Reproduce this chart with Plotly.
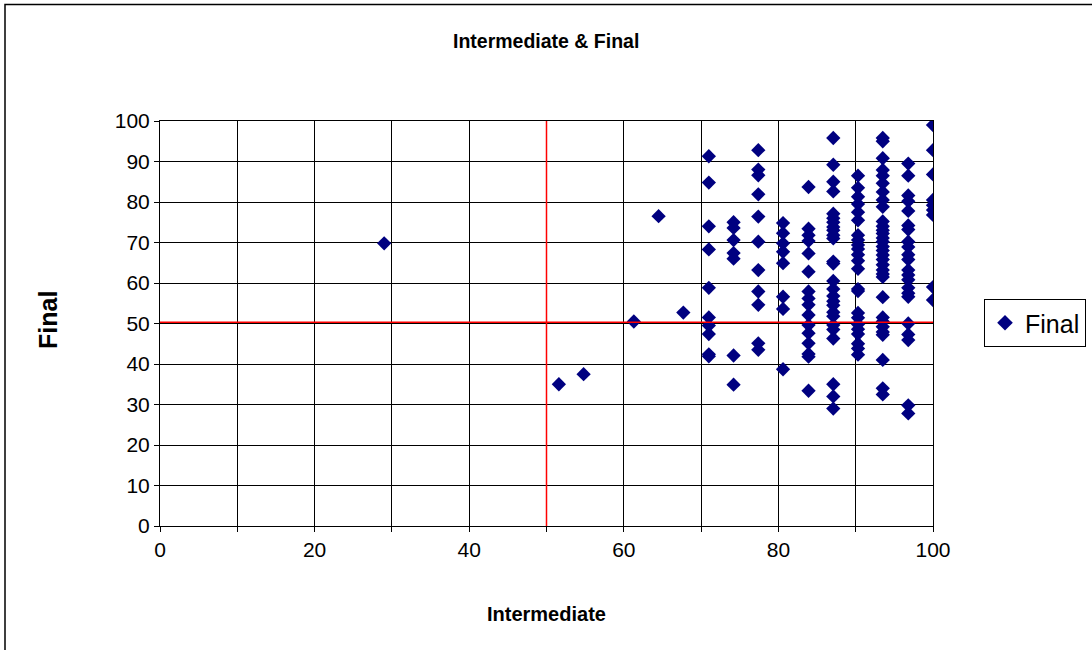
import plotly.graph_objects as go

# Intermediate score columns and the Final scores
intermediate_cols = [29.0, 51.6, 54.8, 61.3, 64.5, 67.7, 71.0, 74.2, 77.4, 80.6,
                     83.9, 87.1, 90.3, 93.5, 96.8, 100.0]
final_by_col = [
    [69.8],
    [35.0],
    [37.5],
    [50.5],
    [76.5],
    [52.7],
    [91.3, 84.8, 74.0, 68.3, 58.8, 51.5, 49.5, 47.4, 42.4, 41.9],
    [75.0, 73.6, 70.6, 67.4, 66.0, 42.1, 34.9],
    [92.8, 88.0, 86.6, 81.9, 76.4, 70.2, 63.2, 57.9, 54.6, 45.1, 43.5],
    [74.8, 72.3, 69.8, 67.7, 64.9, 56.6, 53.6, 38.7],
    [83.7, 73.4, 71.8, 70.4, 67.3, 62.8, 57.9, 56.2, 54.6, 52.1, 49.6, 47.6,
     45.1, 42.5, 41.8, 33.4],
    [95.8, 89.2, 85.0, 82.6, 77.1, 76.0, 75.0, 73.8, 73.0, 71.8, 71.0, 65.3,
     64.8, 60.5, 58.5, 56.8, 55.5, 54.5, 52.8, 51.8, 49.6, 48.5, 46.3, 35.0,
     32.0, 29.0],
    [86.5, 83.5, 81.3, 79.5, 77.5, 75.5, 71.8, 70.6, 69.4, 68.4, 67.0, 65.5,
     63.5, 58.5, 58.0, 52.6, 51.4, 49.8, 48.6, 47.4, 45.0, 43.8, 42.3],
    [95.8, 95.0, 90.8, 87.9, 86.5, 84.6, 82.5, 80.5, 78.8, 75.2, 74.0, 73.0,
     72.2, 71.1, 70.2, 69.0, 68.0, 66.9, 65.8, 64.5, 63.2, 62.2, 61.5, 56.5,
     51.5, 50.5, 49.2, 47.9, 47.2, 41.0, 34.0, 32.5],
    [89.5, 86.5, 81.6, 80.2, 77.8, 74.2, 73.2, 70.2, 68.9, 67.0, 65.8, 63.2,
     62.0, 60.8, 58.8, 57.5, 56.6, 50.0, 47.3, 45.9, 29.8, 27.8],
    [99.0, 92.8, 86.8, 80.5, 79.2, 78.0, 76.8, 59.0, 55.8],
]

x_tickvals = [0, 10, 20, 30, 40, 50, 60, 70, 80, 90, 100]
x_ticktext = ["0", "", "20", "", "40", "", "60", "", "80", "", "100"]

x_vals = []
y_vals = []
for xc, ys in zip(intermediate_cols, final_by_col):
    for yv in ys:
        x_vals.append(xc)
        y_vals.append(yv)

ref_x = 50
ref_y = 50.3

FONT = "Liberation Sans, Arial, sans-serif"
W, H = 1092, 650
L, R, T, B = 160, 159, 121, 124
pw, ph = W - L - R, H - T - B

def px(xp):
    return (xp - L) / pw

def py(yp):
    return (H - B - yp) / ph

fig = go.Figure()
fig.add_trace(go.Scatter(
    x=x_vals, y=y_vals, mode="markers", name="Final",
    marker=dict(symbol="diamond", size=11, color="#000080",
                line=dict(width=0)),
))
# reference lines
fig.add_trace(go.Scatter(x=[0, 100], y=[ref_y, ref_y], mode="lines",
                         line=dict(color="#ff0000", width=1.5),
                         showlegend=False, hoverinfo="skip"))
fig.add_trace(go.Scatter(x=[ref_x, ref_x], y=[0, 100], mode="lines",
                         line=dict(color="#ff0000", width=1.5),
                         showlegend=False, hoverinfo="skip"))

axis_common = dict(
    range=[0, 100], showgrid=True, gridcolor="#000000", gridwidth=1,
    showline=True, linecolor="#000000", linewidth=1, mirror=True,
    ticks="outside", ticklen=5, tickcolor="#000000", zeroline=False,
    tickfont=dict(family=FONT, size=21, color="#000000"),
)

fig.update_layout(
    width=W, height=H,
    margin=dict(l=L, r=R, t=T, b=B, autoexpand=False),
    paper_bgcolor="#ffffff", plot_bgcolor="#ffffff",
    font=dict(family=FONT, color="#000000"),
    xaxis=dict(**axis_common, tickmode="array", tickvals=x_tickvals,
               ticktext=x_ticktext),
    yaxis=dict(**axis_common, dtick=10),
    showlegend=True,
    legend=dict(x=px(984), y=py(323), xanchor="left", yanchor="middle",
                bordercolor="#000000", borderwidth=1, bgcolor="#ffffff",
                font=dict(family=FONT, size=25, color="#000000"),
                itemsizing="constant", itemwidth=30,
                tracegroupgap=0),
    annotations=[
        dict(text="<b>Intermediate &amp; Final</b>", x=px(546), y=py(41),
             xref="paper", yref="paper", showarrow=False,
             font=dict(family=FONT, size=19.5), xanchor="center", yanchor="middle"),
        dict(text="<b>Intermediate</b>", x=px(546), y=py(614),
             xref="paper", yref="paper", showarrow=False,
             font=dict(family=FONT, size=20), xanchor="center", yanchor="middle"),
        dict(text="<b>Final</b>", x=px(48), y=py(320), textangle=-90,
             xref="paper", yref="paper", showarrow=False,
             font=dict(family=FONT, size=25), xanchor="center", yanchor="middle"),
    ],
    shapes=[
        dict(type="rect", xref="paper", yref="paper",
             x0=px(5), x1=px(1120), y0=py(680), y1=py(4.5),
             line=dict(color="#000000", width=1.5), fillcolor="rgba(0,0,0,0)",
             layer="below"),
    ],
)

fig.write_html("out.html")
